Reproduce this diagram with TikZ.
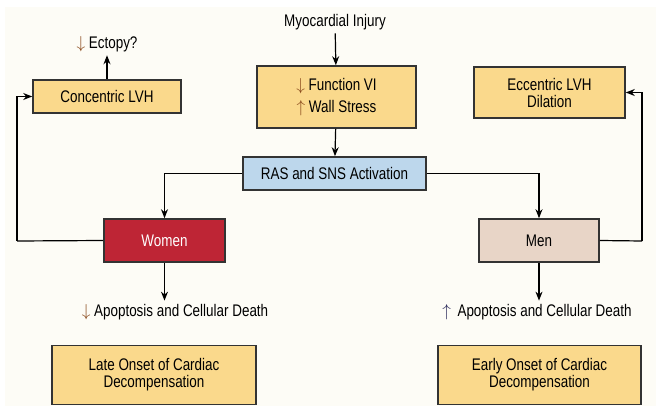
\documentclass[tikz,border=0pt]{standalone}
\usepackage{fontspec}
\setmainfont{Liberation Sans}[FakeStretch=0.8]
\usepackage{tikz}
\usetikzlibrary{arrows.meta}
\definecolor{paper}{HTML}{FDFCF6}
\definecolor{boxyellow}{HTML}{FAD98C}
\definecolor{boxblue}{HTML}{BDD7EC}
\definecolor{boxred}{HTML}{BE2535}
\definecolor{boxtan}{HTML}{E8D5C7}
\definecolor{edge}{HTML}{333333}
\definecolor{downbrown}{HTML}{8A4A1C}
\definecolor{upblue}{HTML}{2B2A5A}

\begin{document}
\begin{tikzpicture}[x=1pt,y=-1pt,font=\fontsize{16.8}{17}\selectfont,
  box/.style={draw=edge,line width=1.6pt,align=center,inner sep=0pt},
  link/.style={line width=1.2pt},
  tip/.style={link,-{Stealth[length=9pt,width=7pt]}}]
\useasboundingbox (0,0) rectangle (656,406);
\fill[white] (0,0) rectangle (656,406);
\fill[paper] (5,7) rectangle (656,406);
% top chain
\node at (335,22) (Injury) {Myocardial Injury};
\node at (336.5,97) [box,fill=boxyellow,minimum width=159pt,minimum height=62pt] (Function)
  {{\color{downbrown}\(\downarrow\)} Function VI\\[5pt]{\color{downbrown}\(\uparrow\)} Wall Stress};
\node at (334.5,173.5) [box,fill=boxblue,minimum width=183pt,minimum height=33pt] (Activation)
  {RAS and SNS Activation};
% sexes
\node at (164.5,240.5) [box,fill=boxred,minimum width=121pt,minimum height=43pt,text=white] (Women) {Women};
\node at (539,240.5) [box,fill=boxtan,minimum width=120pt,minimum height=43pt] (Men) {Men};
% remodelling
\node at (107,96.5) [box,fill=boxyellow,minimum width=148pt,minimum height=33pt] (Concentric) {Concentric LVH};
\node at (549.5,92.5) [box,fill=boxyellow,minimum width=151pt,minimum height=51pt] (Eccentric) {Eccentric LVH\\Dilation};
\node at (107,44) (Ectopy) {{\color{downbrown}\(\downarrow\)} Ectopy?};
% outcomes
\node at (175,312) (WomenDeath) {{\color{downbrown}\(\downarrow\)} Apoptosis and Cellular Death};
\node at (537,312) (MenDeath) {{\color{upblue}\(\uparrow\)}\, Apoptosis and Cellular Death};
\node at (154,375) [box,fill=boxyellow,minimum width=204pt,minimum height=59pt] (LateOnset) {Late Onset of Cardiac\\Decompensation};
\node at (539.5,375) [box,fill=boxyellow,minimum width=203pt,minimum height=59pt] (EarlyOnset) {Early Onset of Cardiac\\Decompensation};
\coordinate (WomenTurn) at (17,241);
\coordinate (MenTurn) at (642,241);
% connectors
\draw[tip] (Injury) -- (Function);
\draw[tip] (Function) -- (Activation);
\draw[tip] (Activation.west) -| (Women.north);
\draw[tip] (Activation.east) -| (Men.north);
\draw[link] (Women.west) -- (WomenTurn);
\draw[tip] (WomenTurn) |- (Concentric.west);
\draw[link] (Men.east) -- (MenTurn);
\draw[tip] (MenTurn) |- (Eccentric.east);
\draw[tip] (Concentric) -- (Ectopy);
\draw[tip] (Women) -- (Women |- WomenDeath.north);
\draw[tip] (Men) -- (Men |- MenDeath.north);
\end{tikzpicture}
\end{document}
